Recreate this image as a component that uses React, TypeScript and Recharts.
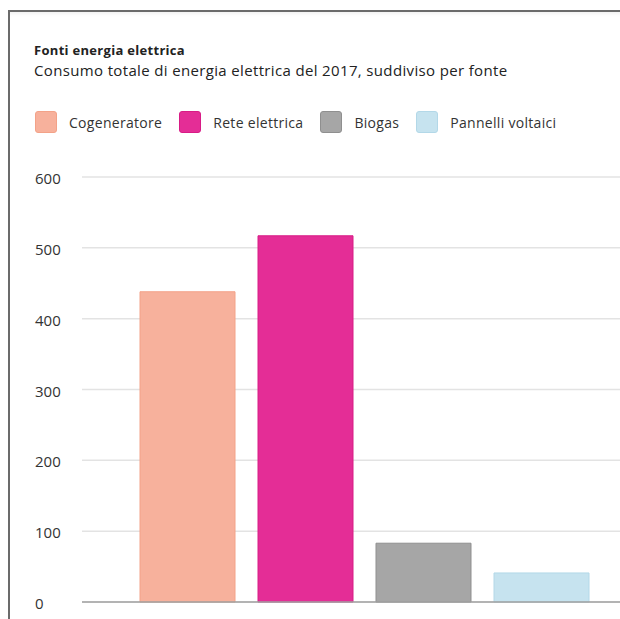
import React from "react";
import { BarChart, Bar, XAxis, YAxis, CartesianGrid, Legend } from "recharts";

const sources = ["Cogeneratore", "Rete elettrica", "Biogas", "Pannelli voltaici"];
const consumption = [438, 517, 83, 41];
const fills = ["#f7b19c", "#e42d96", "#a6a6a6", "#c6e3ef"];
const strokes = ["#f3a288", "#d81c86", "#8f8f8f", "#b3d8e8"];
const yTicks = [0, 100, 200, 300, 400, 500, 600];

const data = [
  sources.reduce(
    (row, s, i) => ({ ...row, [s]: consumption[i] }),
    { name: "2017" } as Record<string, string | number>
  ),
];

const font = "'Open Sans', sans-serif";

const YTick = (props: any) => {
  const { y, payload } = props;
  return (
    <text x={25} y={y} dy={7} textAnchor="start" fontSize={15} fill="#333" fontFamily={font}>
      {String(payload.value)}
    </text>
  );
};

const LegendContent = () => (
  <div style={{ height: 88, paddingTop: 22, paddingLeft: 25, boxSizing: "border-box", display: "flex", fontFamily: font }}>
    {sources.map((s, i) => (
      <div key={s} style={{ display: "flex", alignItems: "center", marginRight: 17, height: 22 }}>
        <span
          style={{
            width: 22,
            height: 22,
            boxSizing: "border-box",
            borderRadius: 3,
            background: fills[i],
            border: `1px solid ${strokes[i]}`,
            marginRight: 12,
          }}
        />
        <span style={{ fontSize: 14, letterSpacing: 0.3, color: "#333" }}>{s}</span>
      </div>
    ))}
  </div>
);

export default function App() {
  return (
    <div style={{ position: "fixed", left: 0, top: 0, width: 700, height: 619, overflow: "hidden" }}>
      <style>{"html,body{margin:0;overflow:hidden}"}</style>
      <div
        style={{
          position: "absolute",
          left: 8,
          top: 10,
          width: 680,
          height: 640,
          boxSizing: "border-box",
          borderTop: "2px solid #6b6b6b",
          borderLeft: "2px solid #6b6b6b",
          boxShadow: "inset 0 5px 4px -4px rgba(0,0,0,0.08)",
          overflow: "hidden",
          background: "#fff",
        }}
      >
        <div style={{ paddingTop: 30, paddingLeft: 24, fontFamily: font, color: "#222" }}>
          <div style={{ fontSize: 13, fontWeight: 700, letterSpacing: 0.3, lineHeight: "17px" }}>
            Fonti energia elettrica
          </div>
          <div style={{ fontSize: 15, letterSpacing: 0.35, lineHeight: "19px", marginTop: 2 }}>
            Consumo totale di energia elettrica del 2017, suddiviso per fonte
          </div>
        </div>
        <div style={{ marginTop: 9 }}>
          <BarChart
            width={637}
            height={529}
            data={data}
            margin={{ top: 0, right: 0, bottom: 0, left: 0 }}
            barGap={23}
          >
            <CartesianGrid vertical={false} stroke="#e3e3e3" strokeWidth={1.5} />
            <XAxis
              dataKey="name"
              tick={false}
              tickLine={false}
              height={16}
              axisLine={{ stroke: "#a0a0a0", strokeWidth: 1.5 }}
            />
            <YAxis
              domain={[0, 600]}
              ticks={yTicks}
              interval={0}
              width={72}
              axisLine={false}
              tickLine={false}
              tick={<YTick />}
            />
            <Legend verticalAlign="top" align="left" content={<LegendContent />} />
            {sources.map((s, i) => (
              <Bar
                key={s}
                dataKey={s}
                fill={fills[i]}
                stroke={strokes[i]}
                strokeWidth={1}
                barSize={95}
                isAnimationActive={false}
              />
            ))}
          </BarChart>
        </div>
      </div>
    </div>
  );
}
